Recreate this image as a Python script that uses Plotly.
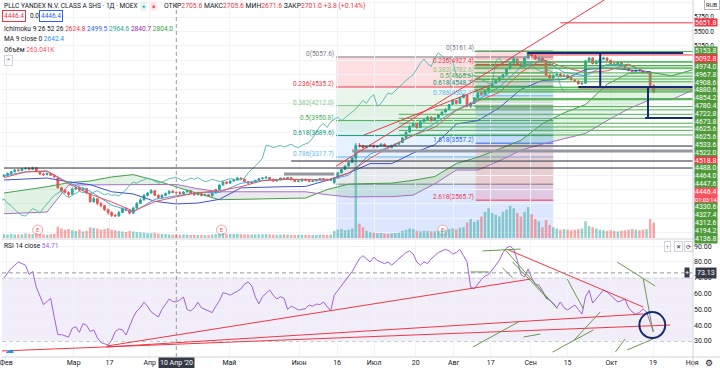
import plotly.graph_objects as go

FONT = "Roboto"
# ------------------------------------------------------------------ data
tick_labels = ['Фев', 'Мар', '17', 'Апр', 'Май', 'Июн', '16', 'Июл', '20', 'Авг', '17', 'Сен', '15', 'Окт', '19', 'Ноя']
tick_bars = [0.6, 19.4, 29.4, 40.6, 62.8, 82.2, 92.8, 103.1, 114.7, 125.3, 135.6, 146.7, 157.0, 169.2, 180.8, 191.7]

opens = [
    2980, 3000, 3030, 3060, 3090, 3080, 3110, 3120, 3100, 3130,
    3060, 3020, 3010, 3030, 3000, 2950, 2780, 2740, 2700, 2670,
    2760, 2790, 2740, 2770, 2680, 2540, 2590, 2510, 2470, 2400,
    2350, 2300, 2290, 2350, 2420, 2390, 2340, 2430, 2510, 2570,
    2650, 2690, 2730, 2650, 2610, 2650, 2680, 2720, 2705.6, 2700,
    2680, 2710, 2730, 2690, 2660, 2680, 2650, 2660, 2640, 2690,
    2750, 2830, 2880, 2860, 2900, 2920, 2950, 2930, 2890, 2860,
    2880, 2910, 2940, 2950, 2960, 2930, 2900, 2920, 2950, 2930,
    2960, 2920, 2890, 2900, 2930, 2910, 2890, 2900, 2920, 2940,
    2930, 2910, 2870, 2950, 3040, 3100, 3160, 3220, 3300, 3520,
    3510, 3480, 3500, 3520, 3490, 3510, 3540, 3500, 3480, 3520,
    3540, 3570, 3650, 3750, 3850, 3900, 3830, 3930, 3970, 4010,
    3950, 4000, 4050, 4100, 4150, 4230, 4300, 4250, 4350, 4400,
    4200, 4250, 4350, 4430, 4410, 4470, 4530, 4600, 4650, 4700,
    4750, 4850, 4950, 5020, 4940, 4890, 5040, 5130, 5080, 5020,
    5040, 4990, 4740, 4690, 4740, 4760, 4720, 4740, 4700, 4660,
    4640, 4590, 4600, 4990, 5040, 4940, 4990, 5020, 5040, 5000,
    4940, 4920, 4960, 4910, 4860, 4820, 4800, 4830, 4820, 4780,
    4800, 4560]
highs = [
    3020, 3045, 3075, 3105, 3110, 3125, 3140, 3135, 3150, 3140,
    3075, 3045, 3050, 3045, 3015, 2960, 2800, 2760, 2720, 2790,
    2820, 2800, 2800, 2780, 2700, 2620, 2600, 2530, 2480, 2420,
    2370, 2330, 2380, 2440, 2440, 2410, 2450, 2530, 2600, 2670,
    2710, 2760, 2740, 2670, 2670, 2700, 2740, 2740, 2705.6, 2720,
    2720, 2750, 2740, 2700, 2700, 2690, 2680, 2670, 2700, 2760,
    2840, 2900, 2890, 2910, 2940, 2970, 2960, 2940, 2900, 2890,
    2920, 2950, 2970, 2980, 2970, 2940, 2930, 2960, 2960, 2970,
    2970, 2930, 2910, 2940, 2940, 2920, 2910, 2930, 2950, 2950,
    2940, 2940, 2960, 3060, 3110, 3170, 3230, 3310, 3560, 3560,
    3530, 3510, 3540, 3530, 3520, 3560, 3550, 3510, 3530, 3550,
    3580, 3660, 3760, 3870, 3930, 3910, 3940, 3990, 4030, 4020,
    4010, 4060, 4110, 4160, 4240, 4320, 4310, 4360, 4420, 4410,
    4270, 4360, 4440, 4450, 4480, 4540, 4610, 4660, 4710, 4760,
    4860, 4960, 5057.6, 5040, 4960, 5050, 5161.4, 5150, 5090, 5060,
    5060, 5000, 4760, 4750, 4780, 4780, 4750, 4750, 4710, 4670,
    4650, 4620, 5000, 5060, 5050, 5000, 5030, 5060, 5050, 5010,
    4960, 4970, 4970, 4920, 4870, 4830, 4840, 4840, 4830, 4810,
    4810, 4580]
lows = [
    2970, 2990, 3020, 3050, 3070, 3070, 3100, 3090, 3090, 3050,
    3010, 2990, 3000, 2990, 2960, 2770, 2700, 2680, 2620, 2660,
    2740, 2720, 2720, 2670, 2520, 2520, 2480, 2440, 2380, 2310,
    2273, 2280, 2280, 2340, 2370, 2320, 2330, 2420, 2500, 2560,
    2630, 2680, 2640, 2590, 2600, 2640, 2670, 2690, 2671.6, 2660,
    2670, 2700, 2680, 2640, 2650, 2630, 2640, 2620, 2630, 2680,
    2740, 2820, 2840, 2850, 2890, 2910, 2910, 2880, 2840, 2850,
    2870, 2900, 2930, 2940, 2920, 2880, 2890, 2910, 2920, 2920,
    2910, 2880, 2880, 2890, 2900, 2880, 2880, 2890, 2910, 2920,
    2900, 2900, 2844, 2940, 3030, 3090, 3150, 3210, 3290, 3480,
    3460, 3470, 3490, 3470, 3480, 3500, 3490, 3460, 3470, 3510,
    3530, 3560, 3640, 3740, 3840, 3810, 3820, 3920, 3960, 3930,
    3940, 3990, 4040, 4090, 4140, 4220, 4230, 4240, 4340, 4190,
    4169.9, 4240, 4340, 4390, 4400, 4460, 4520, 4590, 4640, 4690,
    4740, 4840, 4940, 4930, 4870, 4880, 5030, 5070, 5010, 5010,
    4980, 4720, 4670, 4680, 4730, 4700, 4710, 4690, 4650, 4630,
    4580, 4570, 4590, 4970, 4930, 4930, 4980, 5010, 4990, 4930,
    4900, 4910, 4900, 4850, 4810, 4780, 4790, 4810, 4770, 4770,
    4540, 4430]
closes = [
    3000, 3030, 3060, 3090, 3080, 3110, 3120, 3100, 3130, 3060,
    3020, 3010, 3030, 3000, 2970, 2780, 2730, 2700, 2660, 2760,
    2780, 2740, 2770, 2690, 2540, 2590, 2510, 2470, 2400, 2350,
    2300, 2290, 2350, 2420, 2390, 2340, 2430, 2510, 2570, 2650,
    2690, 2730, 2650, 2610, 2650, 2680, 2720, 2697.2, 2701.0, 2680,
    2710, 2730, 2690, 2660, 2680, 2650, 2660, 2640, 2690, 2750,
    2830, 2880, 2860, 2900, 2920, 2950, 2930, 2890, 2860, 2880,
    2910, 2940, 2950, 2964.6, 2930, 2900, 2920, 2950, 2930, 2960,
    2920, 2890, 2900, 2930, 2910, 2890, 2900, 2920, 2940, 2930,
    2910, 2930, 2950, 3040, 3100, 3160, 3220, 3300, 3520, 3510,
    3480, 3500, 3520, 3490, 3510, 3540, 3500, 3480, 3520, 3540,
    3570, 3650, 3750, 3850, 3900, 3830, 3930, 3970, 4010, 3950,
    4000, 4050, 4100, 4150, 4230, 4300, 4250, 4350, 4400, 4200,
    4250, 4350, 4430, 4410, 4470, 4530, 4600, 4650, 4700, 4750,
    4850, 4950, 5020, 4940, 4890, 5040, 5130, 5080, 5020, 5040,
    4990, 4740, 4690, 4740, 4760, 4720, 4740, 4700, 4660, 4640,
    4590, 4600, 4990, 5040, 4940, 4990, 5020, 5040, 5000, 4940,
    4920, 4960, 4910, 4860, 4820, 4800, 4830, 4820, 4780, 4800,
    4560, 4446.4]
volumes_k = [
    320, 280, 350, 300, 290, 310, 380, 340, 330, 420,
    360, 300, 280, 320, 360, 950, 800, 700, 750, 650,
    600, 700, 550, 600, 900, 850, 800, 700, 750, 820,
    700, 650, 600, 550, 500, 600, 550, 500, 480, 450,
    420, 400, 450, 380, 350, 330, 300, 290, 263, 280,
    300, 280, 260, 270, 250, 260, 240, 250, 280, 320,
    380, 420, 350, 330, 340, 360, 320, 300, 290, 280,
    300, 310, 320, 330, 300, 280, 270, 290, 300, 280,
    260, 250, 270, 280, 260, 250, 240, 260, 280, 270,
    260, 280, 600, 700, 750, 650, 700, 800, 7400, 1200,
    900, 600, 500, 450, 400, 420, 380, 360, 400, 420,
    450, 600, 700, 800, 750, 600, 550, 600, 580, 560,
    550, 600, 650, 700, 750, 800, 700, 850, 900, 1300,
    1600, 1350, 1500, 1800, 2200, 2500, 2100, 1950, 1800, 2200,
    2400, 2700, 2500, 2100, 1800, 2200, 2600, 2000, 1600, 1400,
    900, 1500, 1100, 900, 800, 700, 750, 700, 650, 700,
    750, 800, 1400, 1000, 900, 800, 700, 650, 600, 650,
    600, 550, 600, 650, 700, 750, 700, 650, 700, 750,
    1600, 1300]
rsi14 = [
    70, 73, 76, 78, 80, 79, 78, 72, 74, 64,
    58, 53, 55, 57, 45, 34, 34, 33, 32.5, 38,
    39, 35.5, 41, 40, 36, 37, 32, 29, 28, 27.5,
    30.5, 36, 37.6, 37, 33.8, 40, 45, 49, 51, 54.5,
    52, 48.4, 46.5, 45.2, 50, 53.5, 56.6, 55, 54.71, 56,
    57.8, 50, 49, 51, 54.5, 51, 50, 49, 48, 52,
    55.5, 60.5, 60, 59, 60, 61.5, 63, 66, 67.3, 65,
    58, 53.5, 58, 60.5, 62.3, 59, 56.6, 58, 57, 50,
    52, 51, 49.6, 50, 50.5, 52.8, 52, 53.4, 53, 54.7,
    52, 49, 59, 62, 65.4, 68, 71, 74, 78, 82,
    84, 82, 80, 83, 81, 80, 79, 80, 78, 80,
    82, 84, 86, 87, 85, 80, 78, 80, 79, 82,
    84, 86, 87, 88, 87, 85, 86, 88, 84, 80,
    64, 63, 66, 69, 71, 72, 75, 78, 81, 86,
    89, 90, 88, 81, 72, 70.5, 75.6, 70, 66, 65.4,
    62, 57, 56, 54, 51, 54.7, 51, 49.6, 51, 52.8,
    50, 47, 58, 62, 54, 57, 60, 62.3, 61, 59,
    57, 54.7, 55.5, 56.6, 51, 48.4, 47, 48, 50.3, 48.4,
    42, 36]

# indicator lines, read every 6th bar
ind_bars = [0, 6, 12, 18, 24, 30, 36, 42, 48, 54, 60, 66, 72, 78, 84, 90,
            96, 102, 108, 114, 120, 126, 132, 138, 144, 150, 156, 162, 168, 174, 180]
tenkan = [2960, 3055, 3075, 2850, 2670, 2535, 2375, 2540, 2625, 2695, 2730, 2800, 2905, 2925, 2925, 2915,
          3037, 3295, 3510, 3695, 3835, 4125, 4290, 4440, 4790, 5015, 4880, 4785, 4815, 4935, 4755]
kijun = [2917, 2930, 2951, 2885, 2835, 2712, 2674, 2546, 2500, 2516, 2580, 2780, 2795, 2800, 2805, 2910,
         3037, 3202, 3202, 3387, 3530, 3890, 3950, 4175, 4494, 4650, 4665, 4840, 4865, 4830, 4800]
ma9 = [2990, 3060, 3070, 2870, 2720, 2480, 2360, 2580, 2642, 2700, 2700, 2860, 2910, 2930, 2925, 2915,
       3000, 3370, 3510, 3690, 3900, 4140, 4310, 4540, 4880, 5020, 4790, 4730, 4930, 4920, 4770]
lead_bars = [0, 6, 12, 18, 24, 30, 36, 42, 48, 54, 60, 66, 72, 78, 84, 90, 96,
             102, 108, 114, 120, 126, 132, 138, 144, 150, 156, 162, 168, 174, 180, 186, 192]
lead_a = [2690, 2740, 2800, 2870, 2900, 2970, 3010, 2912, 2804, 2683, 2574, 2577, 2588, 2596, 2602, 2750, 2845,
          2855, 2862, 2912, 2976, 3202, 3313, 3456, 3608, 3897, 4085, 4230, 4584, 4775, 4790, 4730, 4838]
lead_b = [2330, 2340, 2360, 2830, 2830, 2830, 2830, 2835, 2840, 2765, 2712, 2712, 2712, 2712, 2712, 2661, 2622,
          2627, 2627, 2655, 2850, 3090, 3090, 3250, 3435, 3542, 3632, 3727, 3950, 4155, 4315, 4315, 4485]
lag_offset = 25
earnings_bars = [9.4, 60.6, 122.2]

# drawings: fibonacci retracements (start bar, end bar, 0-level price, 1-level price)
fib_start = [92.5, 131.4]
fib_end = [153.0, 153.0]
fib_high = [5057.6, 5161.4]
fib_low = [2844.0, 4169.9]
fib_levels = [[0, 0.236, 0.382, 0.5, 0.618, 0.786, 1, 1.618],
              [0, 0.236, 0.382, 0.5, 0.618, 0.786, 1, 1.618, 2.618]]

# drawn horizontal levels (price, first bar)
green_levels = [5153.8, 4974.0, 4967.8, 4908.6, 4880.6, 4854.2, 4780.4, 4722.8, 4673.8, 4625.6,
                4533.6, 4522.0, 4488.0, 4464.0, 4447.6, 4330.6, 4327.4, 4312.6, 4194.2, 4136.8,
                4060.0, 3990.0, 3905.0, 3840.0, 3780.0, 3700.0]
green_from = [131, 131, 131, 131, 131, 131, 131, 131, 131, 131,
              131, 131, 131, 131, 131, 131, 131, 131, 131, 120,
              110, 110, 110, 110, 110, 110]
red_levels = [5651.8, 5092.8, 4518.8]
red_from = [155, 146, 160]
dark_levels = [3508.0, 3247.0, 3125.0]
dark_from = [99, 80, 0]

# right-scale labels of the drawn levels (value, text)
scale_values = [5153.8, 5092.8, 4974.0, 4967.8, 4908.6, 4880.6, 4854.2, 4780.4, 4722.8, 4673.8,
                4625.6, 4625.6, 4533.6, 4522.0, 4518.8, 4488.0, 4464.0, 4447.6, 4446.4, 4446.4,
                4330.6, 4327.4, 4312.6, 4194.2, 4136.8]
scale_texts = ['5153.8', '5092.8', '4974.0', '4967.8', '4908.6', '4880.6', '4854.2', '4780.4', '4722.8', '4673.8',
               '4625.6', '4625.6', '4533.6', '4522.0', '4518.8', '4488.0', '4464.0', '4447.6', '4446.4', '01:03:14',
               '4330.6', '4327.4', '4312.6', '4194.2', '4136.8']
scale_kind = ['g', 'r', 'g', 'g', 'g', 'g', 'g', 'g', 'g', 'g',
              'g', 'g', 'g', 'g', 'r', 'g', 'g', 'g', 'p', 'p',
              'g', 'g', 'g', 'g', 'g']

# ------------------------------------------------------------------ geometry
PB = 357.0      # plot bottom (px)
MAIN_B = 238.0  # main pane bottom
RSI_T = 240.0   # rsi pane top
PW = 693.0      # plot width
X_RANGE = [-0.556, 191.94]
P_RANGE = [1907.6, 6048.8]
V_RANGE = [0, 20000]
R_RANGE = [19.87, 93.92]
FS = 7.5        # base font size


def yp(px):
    return (PB - px) / PB


def xp(px):
    return px / PW


def price_px(v):
    return (P_RANGE[1] - v) / (P_RANGE[1] - P_RANGE[0]) * MAIN_B


n = len(closes)
bars = list(range(n))
fig = go.Figure()
shapes = []
anns = []

# ---------------- fibonacci fills / lines / labels
lvl_color = {0: '#787b86', 0.236: '#f23645', 0.382: '#81c784', 0.5: '#4caf50', 0.618: '#089981',
             0.786: '#64b5f6', 1: '#787b86', 1.618: '#2962ff', 2.618: '#f23645'}


def hex_rgba(h, a):
    h = h.lstrip('#')
    return 'rgba(%d,%d,%d,%.2f)' % (int(h[0:2], 16), int(h[2:4], 16), int(h[4:6], 16), a)


for k in range(len(fib_start)):
    hi, lo = fib_high[k], fib_low[k]
    lv = fib_levels[k]
    prices = [hi - l * (hi - lo) for l in lv]
    for j in range(len(lv) - 1):
        shapes.append(dict(type='rect', xref='x', yref='y', x0=fib_start[k], x1=fib_end[k],
                           y0=prices[j], y1=prices[j + 1], fillcolor=hex_rgba(lvl_color[lv[j + 1]], 0.16),
                           line=dict(width=0), layer='below'))
    for j, l in enumerate(lv):
        shapes.append(dict(type='line', xref='x', yref='y', x0=fib_start[k], x1=fib_end[k],
                           y0=prices[j], y1=prices[j], line=dict(color=lvl_color[l], width=1), layer='below'))
        if l != 1:
            lab = ('%g' % l) + '(%.1f)' % prices[j]
            anns.append(dict(xref='x', yref='y', x=fib_start[k], y=prices[j], xanchor='right', yanchor='bottom',
                             text=lab, showarrow=False, font=dict(size=6.5, color=lvl_color[l], family=FONT),
                             xshift=-1, yshift=-2, borderpad=0))

# ---------------- ichimoku cloud segments
for k in range(len(lead_bars) - 1):
    up = (lead_a[k] + lead_a[k + 1]) >= (lead_b[k] + lead_b[k + 1])
    col = 'rgba(76,175,80,0.16)' if up else 'rgba(149,152,161,0.2)'
    fig.add_trace(go.Scatter(x=[lead_bars[k], lead_bars[k + 1], lead_bars[k + 1], lead_bars[k]],
                             y=[lead_a[k], lead_a[k + 1], lead_b[k + 1], lead_b[k]],
                             fill='toself', fillcolor=col, mode='none', hoverinfo='skip',
                             showlegend=False, xaxis='x', yaxis='y'))


def line_trace(x, y, color, width=1, yaxis='y'):
    return go.Scatter(x=x, y=y, mode='lines', line=dict(color=color, width=width), hoverinfo='skip',
                      showlegend=False, xaxis='x', yaxis=yaxis)


fig.add_trace(line_trace(lead_bars, lead_a, '#43a047'))
fig.add_trace(line_trace(lead_bars, lead_b, '#ab6cc8'))
fig.add_trace(line_trace([b - lag_offset for b in bars], closes, 'rgba(77,182,172,0.9)'))
fig.add_trace(line_trace(ind_bars, kijun, '#3f51d8'))
fig.add_trace(line_trace(ind_bars, ma9, '#42a5f5'))
fig.add_trace(line_trace(ind_bars, tenkan, '#ef5350'))

# ---------------- volume
vcol = ['rgba(38,166,154,0.5)' if c >= o else 'rgba(239,83,80,0.5)' for o, c in zip(opens, closes)]
fig.add_trace(go.Bar(x=bars, y=volumes_k, marker=dict(color=vcol, line=dict(width=0)), width=0.7,
                     xaxis='x', yaxis='y2', hoverinfo='skip', showlegend=False))

# ---------------- candles
fig.add_trace(go.Candlestick(x=bars, open=opens, high=highs, low=lows, close=closes,
                             increasing=dict(line=dict(color='#26a69a', width=1), fillcolor='#26a69a'),
                             decreasing=dict(line=dict(color='#ef5350', width=1), fillcolor='#ef5350'),
                             whiskerwidth=0, xaxis='x', yaxis='y', showlegend=False, hoverinfo='skip'))

# ---------------- earnings markers
e_price = P_RANGE[0] + (P_RANGE[1] - P_RANGE[0]) * (MAIN_B - 230) / MAIN_B
fig.add_trace(go.Scatter(x=earnings_bars, y=[e_price] * len(earnings_bars), mode='markers+text', text=['E'] * 3,
                         textposition='middle center', textfont=dict(size=6, color='#f7525f', family=FONT),
                         marker=dict(symbol='circle', size=10, color='white', line=dict(color='#f7a1a8', width=1)),
                         xaxis='x', yaxis='y', hoverinfo='skip', showlegend=False))

# ---------------- drawn levels
for v, s in zip(green_levels, green_from):
    shapes.append(dict(type='line', xref='x', yref='y', x0=s, x1=X_RANGE[1], y0=v, y1=v,
                       line=dict(color='#4caf50', width=1)))
for v, s in zip(red_levels, red_from):
    shapes.append(dict(type='line', xref='x', yref='y', x0=s, x1=X_RANGE[1], y0=v, y1=v,
                       line=dict(color='#f23645', width=1)))
for v, s in zip(dark_levels, dark_from):
    shapes.append(dict(type='line', xref='x', yref='y', x0=s, x1=X_RANGE[1], y0=v, y1=v,
                       line=dict(color='#2a2e39', width=1)))
shapes.append(dict(type='line', xref='x', yref='y', x0=97, x1=X_RANGE[1], y0=3420, y1=3420,
                   line=dict(color='#9598a1', width=3)))
shapes.append(dict(type='line', xref='x', yref='y', x0=78, x1=92, y0=3021, y1=3021,
                   line=dict(color='#9598a1', width=3)))

# navy box drawing
navy = '#172a74'
for (x0, y0, x1, y1) in [(145.8, 5127, 189.2, 5127), (166.1, 5127, 166.1, 4535), (160, 4535, 191.9, 4535),
                         (179.4, 4535, 179.4, 3996), (178.6, 3996, 191.9, 3996)]:
    shapes.append(dict(type='line', xref='x', yref='y', x0=x0, x1=x1, y0=y0, y1=y1,
                       line=dict(color=navy, width=2)))

# red trend lines
for (x0, y0, x1, y1) in [(92.5, 3157, 167.2, 6048), (100.3, 3700, 135.6, 4570)]:
    shapes.append(dict(type='line', xref='x', yref='y', x0=x0, x1=x1, y0=y0, y1=y1,
                       line=dict(color='#f23645', width=1)))

# ---------------- RSI pane
shapes.append(dict(type='rect', xref='paper', yref='y3', x0=0, x1=1, y0=30, y1=70,
                   fillcolor='rgba(149,117,205,0.13)', line=dict(width=0), layer='below'))
for lv in (70, 30):
    shapes.append(dict(type='line', xref='paper', yref='y3', x0=0, x1=1, y0=lv, y1=lv,
                       line=dict(color='#9598a1', width=1, dash='4px,3px'), layer='below'))
fig.add_trace(line_trace(bars, rsi14, '#a262d6', 1, 'y3'))

for (x0, y0, x1, y1) in [(28.6, 26.8, 146.7, 69.2), (28.6, 26.2, 178.1, 47.1), (-0.56, 23.7, 185.6, 40.1),
                         (140.6, 87.6, 178.1, 51.5)]:
    shapes.append(dict(type='line', xref='x', yref='y3', x0=x0, x1=x1, y0=y0, y1=y1,
                       line=dict(color='#f23645', width=1)))
for (x0, y0, x1, y1) in [(130, 73.7, 135, 73.7), (138.9, 76.2, 141.7, 69.9), (139.7, 87.6, 154.2, 50.3),
                         (141.7, 80, 151.9, 55.7), (156.9, 69.2, 161.4, 50.3), (170.8, 80, 181.4, 64.8),
                         (178.1, 69.2, 180.8, 35.7), (130.6, 26.2, 143.3, 42), (144.7, 32.5, 149.4, 34.4),
                         (152.8, 23, 164.2, 37), (158.6, 30, 166.1, 48.4), (170.3, 23, 173, 31.3),
                         (173.6, 24.3, 180.8, 31.3), (133.3, 87.0, 143.9, 88.2)]:
    shapes.append(dict(type='line', xref='x', yref='y3', x0=x0, x1=x1, y0=y0, y1=y1,
                       line=dict(color='#6a9a4a', width=1)))
shapes.append(dict(type='circle', xref='x', yref='y3', x0=177.0, x1=184.2, y0=31.9, y1=48.3,
                   line=dict(color=navy, width=2)))

# ---------------- crosshair
cross_bar = 48
shapes.append(dict(type='line', xref='x', yref='paper', x0=cross_bar, x1=cross_bar, y0=0, y1=1,
                   line=dict(color='#9598a1', width=1, dash='4px,3px')))
shapes.append(dict(type='line', xref='paper', yref='y3', x0=0, x1=1, y0=73.13, y1=73.13,
                   line=dict(color='#9598a1', width=1, dash='4px,3px')))

# pane separators / scale borders
shapes.append(dict(type='line', xref='paper', yref='paper', x0=0, x1=1.04, y0=yp(239), y1=yp(239),
                   line=dict(color='#d1d4dc', width=1)))
shapes.append(dict(type='line', xref='paper', yref='paper', x0=1, x1=1, y0=-0.05, y1=1,
                   line=dict(color='#d1d4dc', width=1)))
shapes.append(dict(type='line', xref='paper', yref='paper', x0=0, x1=1.04, y0=0, y1=0,
                   line=dict(color='#d1d4dc', width=1)))

# ---------------- right scale stacked labels
prev = -100.0
bgmap = {'g': '#4e9a3a', 'r': '#f23645', 'p': '#f7525f'}
for v, t, kd in zip(scale_values, scale_texts, scale_kind):
    y = max(price_px(v), prev + 7.8)
    prev = y
    fsz = FS - 0.5 if len(t) <= 6 else 5.6
    anns.append(dict(xref='paper', yref='paper', x=1.0, y=yp(y), xanchor='left', yanchor='middle', text=t,
                     showarrow=False, font=dict(size=fsz, color='white', family=FONT), bgcolor=bgmap[kd],
                     borderpad=0, xshift=1, height=7.6))
anns.append(dict(xref='paper', yref='paper', x=1.0, y=yp(price_px(red_levels[0])), xanchor='left',
                 yanchor='middle', text='%.1f' % red_levels[0], showarrow=False,
                 font=dict(size=FS - 0.5, color='white', family=FONT), bgcolor='#f23645', borderpad=0,
                 xshift=1, height=7.0))
anns.append(dict(xref='paper', yref='paper', x=1.0, y=yp(5), xanchor='left', yanchor='middle', text='RUB',
                 showarrow=False, font=dict(size=6, color='#131722', family=FONT), bgcolor='white',
                 bordercolor='#b2b5be', borderwidth=1, borderpad=1, xshift=11))

# RSI crosshair label
anns.append(dict(xref='paper', yref='y3', x=1.0, y=73.13, xanchor='left', yanchor='middle', text='73.13',
                 showarrow=False, font=dict(size=FS - 0.5, color='white', family=FONT), bgcolor='#363a45',
                 borderpad=1, xshift=2))
anns.append(dict(xref='paper', yref='y3', x=1.0, y=73.13, xanchor='right', yanchor='middle', text='+',
                 showarrow=False, font=dict(size=FS, color='white', family=FONT), bgcolor='#363a45',
                 borderpad=0, xshift=-3))
anns.append(dict(xref='x', yref='paper', x=cross_bar, y=yp(363), xanchor='center', yanchor='middle',
                 text="10 Апр '20", showarrow=False, font=dict(size=FS - 0.5, color='white', family=FONT),
                 bgcolor='#363a45', borderpad=1))

# ---------------- legends (text)
red = '#f23645'


def txt(xpx, ypx, text, size=FS, color='#131722', **kw):
    d = dict(xref='paper', yref='paper', x=xp(xpx), y=yp(ypx), xanchor='left', yanchor='middle', text=text,
             showarrow=False, font=dict(size=size, color=color, family=FONT))
    d.update(kw)
    return d


anns.append(txt(0, 6, 'PLLC YANDEX N.V. CLASS A SHS · 1Д · MOEX', 6.6))
anns.append(txt(138, 6, '●', 5, '#26a69a', bgcolor='#e0f2f1', borderpad=1))
anns.append(txt(148, 6, '■', 5, '#f7525f', bgcolor='#fde4e6', borderpad=1))
anns.append(txt(160, 6, "ОТКР<span style='color:%s'>2705.6</span> МАКС<span style='color:%s'>2705.6</span> "
                        "МИН<span style='color:%s'>2671.6</span> ЗАКР<span style='color:%s'>2701.0 +3.8 (+0.14%%)</span>"
                        % (red, red, red, red), 6.8))
anns.append(txt(0, 16, '4446.4', 6.5, red, bordercolor=red, borderwidth=1, borderpad=1))
anns.append(txt(26, 16, '0.0', 6.5, '#131722'))
anns.append(txt(37, 16, '4446.4', 6.5, '#2962ff', bordercolor='#2962ff', borderwidth=1, borderpad=1))
anns.append(txt(0, 29, "Ichimoku 9 26 52 26 <span style='color:#f23645'>2624.8</span> "
                       "<span style='color:#2962ff'>2499.5</span> <span style='color:#26a69a'>2964.6</span> "
                       "<span style='color:#9c27b0'>2840.7</span> <span style='color:#43a047'>2804.0</span>", 6.6))
anns.append(txt(0, 39, "MA 9 close 0 <span style='color:#2196f3'>2642.4</span>", 6.6))
anns.append(txt(0, 50, "Объём <span style='color:#f7525f'>263.041K</span>", 6.6))
anns.append(txt(2, 61, '⌃', 6, '#131722', bordercolor='#d1d4dc', borderwidth=1, borderpad=1))
anns.append(txt(0, 246, "RSI 14 close <span style='color:#a262d6'>54.71</span>", 6.6))
anns.append(txt(664, 246, '↑', 6, '#131722', bordercolor='#d1d4dc', borderwidth=1, borderpad=1))
anns.append(txt(674, 246, '✕', 6, '#131722', bordercolor='#d1d4dc', borderwidth=1, borderpad=1))
anns.append(txt(684, 246, '⟳', 6, '#131722', bordercolor='#d1d4dc', borderwidth=1, borderpad=1))
anns.append(txt(1, 350, '☁', 9, '#2196f3'))
anns.append(txt(703, 363, '⚙', 9, '#131722'))

# ---------------- axes
price_ticks = [2000 + 250 * k for k in range(17)]
price_text = ['%.1f' % t if t in (5250, 5500, 5750) else '' for t in price_ticks]
rsi_ticks = [30, 40, 50, 60, 70, 80, 90]

fig.update_layout(
    width=720, height=368, margin=dict(l=0, r=27, t=0, b=11),
    paper_bgcolor='white', plot_bgcolor='white', showlegend=False,
    font=dict(family=FONT, size=FS, color='#131722'),
    xaxis=dict(domain=[0, 1], anchor='y3', range=X_RANGE, tickvals=tick_bars, ticktext=tick_labels,
               showgrid=True, gridcolor='#f0f3fa', zeroline=False, ticks='', rangeslider=dict(visible=False),
               tickfont=dict(size=FS - 0.5, color='#131722'), showline=False, ticklabeloverflow='allow'),
    yaxis=dict(domain=[yp(MAIN_B), 1], anchor='x', side='right', range=P_RANGE, tickvals=price_ticks,
               ticktext=price_text, showgrid=True, gridcolor='#f0f3fa', zeroline=False, ticks='',
               tickfont=dict(size=6.5, color='#131722')),
    yaxis2=dict(domain=[yp(MAIN_B), 1], anchor='x', overlaying='y', range=V_RANGE, visible=False),
    yaxis3=dict(domain=[0, yp(RSI_T)], anchor='x', side='right', range=R_RANGE, tickvals=rsi_ticks,
                ticktext=['%.2f' % t for t in rsi_ticks], showgrid=True, gridcolor='#f0f3fa', zeroline=False,
                ticks='', tickfont=dict(size=FS - 0.5, color='#131722')),
    shapes=shapes, annotations=anns, bargap=0.3,
)

fig.write_html("out.html", config={'displayModeBar': False},
               post_script="document.body.style.margin='0';document.body.style.overflow='hidden';")
